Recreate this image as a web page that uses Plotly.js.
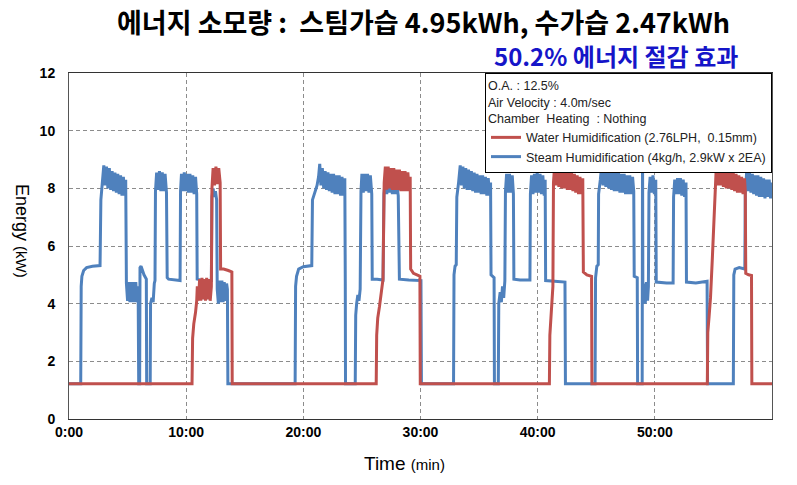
<!DOCTYPE html>
<html>
<head>
<meta charset="utf-8">
<script src="https://cdn.plot.ly/plotly-3.0.1.min.js"></script>
<style>html,body{margin:0;padding:0;background:#fff;}#chart{width:797px;height:485px;}</style>
</head>
<body>
<div id="chart"></div>
<script>
// ---- data (time in minutes, energy in kW) ----
const steamTime = [0,1.0,1.04,1.1,1.25,1.5,2.0,2.65,2.72,2.85,2.97,3.08,3.2,3.32,3.44,3.56,3.68,3.8,3.92,4.04,4.16,4.28,4.4,4.52,4.64,4.76,4.84,4.9,5.0,5.1,5.2,5.3,5.4,5.5,5.6,5.7,5.8,5.9,5.95,6.03,6.06,6.15,6.4,6.6,6.63,6.93,6.96,7.08,7.18,7.28,7.34,7.38,7.48,7.6,7.72,7.84,7.96,8.08,8.2,8.32,8.38,8.5,9.0,9.48,9.52,9.6,9.72,9.84,9.96,10.08,10.2,10.32,10.44,10.56,10.68,10.8,10.9,10.94,11.5,12.15,12.2,12.3,12.4,12.5,12.6,12.65,12.75,12.85,12.95,13.05,13.15,13.25,13.35,13.45,13.52,13.56,
  19.3,19.34,19.42,19.6,20.0,20.72,20.78,21.0,21.17,21.3,21.4,21.5,21.62,21.74,21.86,21.98,22.1,22.22,22.34,22.46,22.58,22.7,22.82,22.94,23.06,23.18,23.3,23.42,23.54,23.58,23.6,24.43,24.47,24.55,24.65,24.75,24.85,24.92,25.0,25.12,25.24,25.36,25.48,25.6,25.72,25.84,25.88,26.3,26.8,26.88,27.0,27.12,27.24,27.36,27.48,27.6,27.72,27.84,27.96,28.1,28.2,29.0,30.04,30.08,
  32.82,32.86,32.95,33.05,33.1,33.25,33.39,33.5,33.62,33.74,33.86,33.98,34.1,34.22,34.34,34.46,34.58,34.7,34.82,34.94,35.06,35.18,35.3,35.42,35.54,35.66,35.78,35.9,35.98,36.02,36.2,36.28,36.31,36.64,36.68,36.8,36.9,37.0,37.1,37.2,37.25,37.35,37.47,37.59,37.71,37.83,37.93,37.97,38.5,39.34,39.38,39.48,39.6,39.72,39.84,39.96,40.08,40.2,40.32,40.44,40.56,40.64,40.68,41.5,42.33,42.37,
  44.9,44.94,45.05,45.17,45.2,45.35,45.47,45.58,45.7,45.82,45.94,46.06,46.18,46.3,46.42,46.54,46.66,46.78,46.9,47.02,47.14,47.26,47.38,47.5,47.62,47.74,47.86,47.98,48.1,48.2,48.24,48.5,48.53,48.92,48.95,48.98,49.08,49.18,49.28,49.38,49.45,49.5,49.6,49.72,49.84,49.96,50.08,50.12,51.0,51.56,51.6,51.7,51.82,51.94,52.06,52.18,52.3,52.42,52.54,52.66,52.7,53.5,54.46,54.5,
  56.7,56.74,56.85,57.2,57.68,57.72,57.84,57.96,58.08,58.2,58.32,58.44,58.56,58.68,58.8,58.92,59.04,59.16,59.28,59.4,59.52,59.64,59.76,59.88,60.0];
const steamKW = [1.22,1.22,4.6,4.95,5.15,5.25,5.3,5.32,7.6,8.2,8.8,8.1,8.75,8.0,8.7,7.95,8.6,7.9,8.55,7.85,8.5,7.8,8.45,7.75,8.4,7.75,8.3,4.7,4.1,4.75,4.05,4.75,4.05,4.75,4.05,4.75,4.05,4.6,1.22,1.22,5.25,5.3,5.0,4.85,1.22,1.22,4.0,4.2,4.05,4.7,4.8,7.9,8.55,7.95,8.6,7.9,8.55,7.9,8.5,7.85,4.9,4.85,4.82,4.8,7.9,8.5,7.9,8.55,7.9,8.5,7.85,8.5,7.85,8.45,7.8,8.4,7.8,4.85,4.8,4.8,7.7,8.0,7.7,7.9,7.6,4.5,4.0,4.8,4.05,4.8,4.05,4.75,4.1,4.7,4.5,1.22,
  1.22,4.6,4.95,5.2,5.28,5.32,7.6,7.9,8.1,8.4,8.85,8.1,8.7,8.0,8.6,7.95,8.55,7.9,8.5,7.85,8.5,7.8,8.45,7.8,8.45,7.75,8.4,7.75,8.35,4.8,1.22,1.22,3.6,4.0,4.3,4.1,4.5,7.9,8.5,7.85,8.5,7.9,8.5,7.85,8.45,7.8,4.85,4.85,4.82,7.8,8.3,7.8,8.3,7.85,8.3,7.8,8.25,7.8,8.2,7.75,4.85,4.82,4.8,1.22,
  1.22,5.0,5.3,5.35,7.7,8.2,8.8,8.1,8.75,8.0,8.7,7.95,8.65,7.95,8.6,7.9,8.55,7.85,8.5,7.85,8.45,7.8,8.45,7.8,8.4,7.75,8.35,7.75,8.2,5.0,4.95,4.9,1.22,1.22,4.0,4.4,4.05,4.6,4.2,4.8,7.9,8.5,7.85,8.5,7.85,8.45,7.8,4.85,4.82,4.82,7.8,8.45,7.8,8.5,7.85,8.55,7.85,8.5,7.8,8.45,7.75,8.3,4.8,4.78,4.75,1.22,
  1.22,4.9,5.3,5.35,7.8,8.3,8.8,8.1,8.75,8.05,8.7,8.0,8.65,7.95,8.6,7.9,8.55,7.9,8.55,7.85,8.5,7.85,8.5,7.8,8.45,7.8,8.45,7.8,8.4,7.9,4.95,4.9,1.22,1.22,9.6,4.1,4.7,4.0,4.75,4.1,4.6,7.85,8.4,7.85,8.45,7.8,8.3,4.75,4.72,4.72,7.7,8.3,7.8,8.35,7.8,8.35,7.75,8.3,7.7,8.2,4.75,4.72,4.78,1.22,
  1.22,5.0,5.2,5.25,5.2,7.8,8.6,7.9,8.55,7.85,8.5,7.8,8.45,7.75,8.45,7.7,8.4,7.7,8.35,7.65,8.3,7.7,8.3,7.65,8.2];

const waterTime = [0,10.5,10.55,10.65,10.8,10.9,10.95,11.05,11.15,11.25,11.35,11.45,11.55,11.65,11.75,11.85,11.95,12.05,12.15,12.2,12.3,12.42,12.54,12.66,12.78,12.9,12.94,13.2,13.6,13.9,13.93,
  26.22,26.26,26.35,26.5,26.65,26.8,26.9,27.0,27.12,27.24,27.36,27.48,27.6,27.72,27.84,27.96,28.08,28.2,28.32,28.44,28.56,28.68,28.8,28.92,29.04,29.12,29.16,29.4,29.7,29.95,29.98,
  41.0,41.04,41.12,41.22,41.3,41.35,41.45,41.57,41.69,41.81,41.93,42.05,42.17,42.29,42.41,42.53,42.65,42.77,42.89,43.01,43.13,43.25,43.37,43.49,43.61,43.73,43.85,43.9,44.2,44.6,44.63,
  54.48,54.52,54.62,54.75,54.9,55.05,55.15,55.25,55.37,55.49,55.61,55.73,55.85,55.97,56.09,56.21,56.33,56.45,56.57,56.69,56.81,56.93,57.05,57.17,57.29,57.41,57.53,57.65,57.72,57.76,58.0,58.25,58.28,60.0];
const waterKW = [1.22,1.22,2.8,3.3,3.7,4.1,4.6,4.1,4.85,4.1,4.9,4.15,4.85,4.1,4.9,4.15,4.85,4.1,4.6,8.0,8.7,8.1,8.75,8.15,8.7,8.2,5.2,5.2,5.15,5.1,1.22,
  1.22,2.9,3.5,3.9,4.5,4.85,8.2,8.75,7.95,8.75,8.0,8.7,7.95,8.7,7.95,8.65,7.95,8.65,7.9,8.6,7.9,8.6,7.9,8.55,7.9,8.4,5.2,5.05,5.0,4.95,1.22,
  1.22,2.9,3.5,4.0,4.6,8.2,8.8,8.1,8.75,8.05,8.7,8.0,8.7,8.0,8.65,7.95,8.6,7.95,8.55,7.9,8.5,7.85,8.45,7.8,8.4,7.8,8.35,5.1,5.0,4.95,1.22,
  1.22,3.0,3.5,4.2,5.5,7.0,8.2,8.8,8.1,8.8,8.1,8.75,8.05,8.7,8.0,8.65,8.0,8.6,7.95,8.55,7.9,8.5,7.85,8.45,7.85,8.4,7.8,8.35,7.9,5.05,5.0,4.98,1.22,1.22];

const xTickVals = [0,10,20,30,40,50];
const xTickText = ['0:00','10:00','20:00','30:00','40:00','50:00'];
const yTickVals = [0,2,4,6,8,10,12];

const seriesNames = ['Steam Humidification (4kg/h, 2.9kW x 2EA)','Water Humidification (2.76LPH,  0.15mm)'];
const conditionText = 'O.A. : 12.5%<br>Air Velocity : 4.0m/sec<br>Chamber  Heating  : Nothing';
const titleLine1 = '에너지 소모량 :  스팀가습 4.95kWh, 수가습 2.47kWh';
const titleLine2 = '50.2% 에너지 절감 효과';

const narrow = '"Liberation Sans Narrow", "Arial Narrow", "Liberation Sans", sans-serif';
const legendFont = {family: '"Liberation Sans", Arial, sans-serif', size: 12.5, color: '#222'};

const traces = [
  {x: steamTime, y: steamKW, type: 'scatter', mode: 'lines', name: seriesNames[0],
   line: {color: '#4F81BD', width: 3}},
  {x: waterTime, y: waterKW, type: 'scatter', mode: 'lines', name: seriesNames[1],
   line: {color: '#C0504D', width: 3}}
];

const layout = {
  width: 797, height: 485,
  margin: {l: 69, r: 25, t: 73, b: 66, pad: 0},
  paper_bgcolor: '#fff', plot_bgcolor: '#fff',
  showlegend: true,
  legend: {
    x: 1, xanchor: 'right', y: 1, yanchor: 'top',
    bgcolor: '#fff', bordercolor: '#000', borderwidth: 1,
    font: legendFont,
    title: {text: conditionText, side: 'top', font: legendFont},
    traceorder: 'reversed',
    itemwidth: 30, tracegroupgap: 0
  },
  xaxis: {
    range: [0, 60], tickvals: xTickVals, ticktext: xTickText,
    showgrid: true, gridcolor: '#8c8c8c', griddash: '4px,3px', gridwidth: 1,
    showline: true, linecolor: '#333', linewidth: 1, mirror: true,
    zeroline: false, ticks: '',
    tickfont: {family: narrow, size: 14, color: '#000', weight: 'bold'}
  },
  yaxis: {
    range: [0, 12], tickvals: yTickVals,
    showgrid: true, gridcolor: '#8c8c8c', griddash: '4px,3px', gridwidth: 1,
    showline: true, linecolor: '#555', linewidth: 1, mirror: true,
    zeroline: false, ticks: '', ticklabelstandoff: 10,
    tickfont: {family: narrow, size: 14, color: '#000', weight: 'bold'}
  },
  annotations: [
    {text: titleLine1, xref: 'paper', yref: 'paper', x: 0.5, y: 1, xshift: 3, yshift: 52,
     xanchor: 'center', yanchor: 'middle', showarrow: false,
     font: {family: '"Noto Sans CJK KR", sans-serif', size: 27, color: '#000', weight: 'bold'}},
    {text: titleLine2, xref: 'paper', yref: 'paper', x: 1, y: 1, xshift: -32, yshift: 18,
     xanchor: 'right', yanchor: 'middle', showarrow: false,
     font: {family: '"Noto Sans CJK KR", sans-serif', size: 24, color: '#1515C8', weight: 'bold'}},
    {text: 'Time <span style="font-size:15px">(min)</span>', xref: 'paper', yref: 'paper', x: 0.5, y: 0, xshift: -16, yshift: -44,
     xanchor: 'center', yanchor: 'middle', showarrow: false,
     font: {family: narrow, size: 19, color: '#000'}},
    {text: 'Energy <span style="font-size:15px">(kW)</span>', xref: 'paper', yref: 'paper', x: 0, y: 0.5, xshift: -47, yshift: 15,
     xanchor: 'center', yanchor: 'middle', showarrow: false, textangle: 90,
     font: {family: narrow, size: 18, color: '#000'}}
  ]
};

Plotly.newPlot('chart', traces, layout, {displayModeBar: false, staticPlot: true});
</script>
</body>
</html>
